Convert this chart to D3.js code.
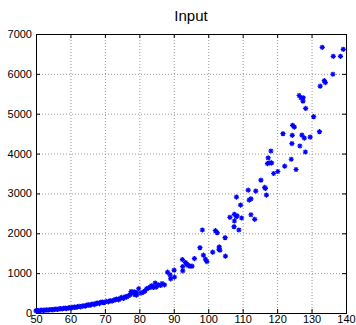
<!DOCTYPE html>
<html>
<head>
<meta charset="utf-8">
<script src="https://cdn.jsdelivr.net/npm/d3@7"></script>
<style>
  body { margin: 0; background: #fff; }
  svg text { font-family: "Liberation Sans", Arial, sans-serif; }
</style>
</head>
<body>
<div id="chart"></div>
<script>
// data
const xValues = [
  50, 50.4, 50.8, 51.3, 51.7, 52.2, 52.6, 53.1, 53.5, 54, 54.4, 54.9, 55.3, 55.8, 56.2, 56.7,
  57.1, 57.6, 58, 58.5, 58.9, 59.4, 59.8, 60.3, 60.7, 61.2, 61.6, 62.1, 62.5, 63, 63.4, 63.9,
  64.3, 64.8, 65.2, 65.7, 66.1, 66.6, 67, 67.5, 67.9, 68.4, 68.8, 69.3, 69.7, 70.4, 71, 71.5,
  72.1, 72.6, 73.1, 73.4, 74, 74.5, 74.9, 75.4, 75.9, 76.3, 76.8, 77.3,
  77.6, 77.8, 78.5, 78.7, 79.2, 79.2, 79.8, 80.5, 81.2, 81.6, 82.1, 82.6, 83.1, 83.5, 84.1,
  84.6, 84.9, 85.5, 86.2, 86.6, 87.3, 88.2, 88.9, 89.1, 90.1, 90.2, 92.5, 92.6, 92.6, 93.4,
  93.8, 94.2, 94.7, 95.3, 96.0, 97.6, 98.3, 98.6, 99.2, 99.6, 101.3, 102.1, 102.6, 103.1,
  103.2, 103.4, 104.9, 105.0, 106.3, 107.5, 107.6, 107.6, 108.1, 108.2, 108.4, 108.9, 109.4,
  109.7, 111.6, 111.9, 112.4, 112.4, 113.5, 113.8, 115.3, 116.4, 116.6, 116.9, 117.2, 117.4,
  117.9, 118.2, 118.4, 119.0, 120.2, 121.7, 122.2, 124.1, 124.3, 124.4, 124.5, 125.0, 125.5,
  126.4, 126.6, 126.9, 127.2, 127.5, 127.6, 127.9, 128.2, 128.3, 129.6, 130.6, 132.3, 132.5,
  133.1, 133.7, 134.0, 136.2, 136.3, 138.4, 139.2
];
const yValues = [
  55, 62, 58, 66, 70, 64, 74, 78, 72, 82, 86, 80, 92, 96, 90, 102,
  108, 104, 115, 120, 112, 128, 134, 126, 142, 148, 140, 158, 164, 155, 176, 182,
  172, 196, 204, 192, 218, 226, 212, 242, 250, 236, 268, 276, 258, 290, 280, 308,
  298, 322, 336, 350, 330, 372, 392, 365, 410, 400, 432, 455,
  540, 500, 533, 458, 450, 508, 608, 500, 525, 550, 608, 625, 640, 683, 640,
  750, 650, 708, 690, 740, 708, 1025, 958, 858, 1075, 900, 1340, 1165, 1058, 1265,
  1225, 1190, 1175, 1175, 1365, 1640, 2083, 1450, 1350, 1290, 1525, 2065, 2015, 1600,
  1658, 1575, 1890, 1425, 2400, 2165, 2475, 2308, 2415, 2908, 2440, 2083, 2708,
  2383, 3083, 2833, 2865, 2465, 2350, 3058, 3333, 3150, 3125, 2958, 3750, 3890,
  3765, 4065, 3765, 3500, 3550, 4500, 3683, 3858, 4250, 4458, 4708, 4665, 3600,
  5457, 4190, 5400, 4465, 5315, 5400, 4390, 4040, 5133, 4415, 4925, 4550, 5690,
  6665, 5830, 5780, 5990, 6440, 6440, 6615
];
const xTicks = [50, 60, 70, 80, 90, 100, 110, 120, 130, 140];
const yTicks = [0, 1000, 2000, 3000, 4000, 5000, 6000, 7000];
const title = "Input";

const W = 356, H = 325;
const margin = { top: 34, right: 10, bottom: 12, left: 36 };
const width = W - margin.left - margin.right;
const height = H - margin.top - margin.bottom;

const svg = d3.select("#chart").append("svg")
  .attr("width", W)
  .attr("height", H);

const g = svg.append("g")
  .attr("transform", `translate(${margin.left},${margin.top})`);

const x = d3.scaleLinear().domain([50, 140]).range([0, width]);
const y = d3.scaleLinear().domain([0, 7000]).range([height, 0]);

// dotted grid
g.append("g").selectAll("line")
  .data(xTicks.slice(1, -1))
  .join("line")
  .attr("x1", d => x(d) + 0.5).attr("x2", d => x(d) + 0.5)
  .attr("y1", 0).attr("y2", height)
  .attr("stroke", "#999").attr("stroke-dasharray", "1,2");

g.append("g").selectAll("line")
  .data(yTicks.slice(1, -1))
  .join("line")
  .attr("y1", d => y(d) + 0.5).attr("y2", d => y(d) + 0.5)
  .attr("x1", 0).attr("x2", width)
  .attr("stroke", "#999").attr("stroke-dasharray", "1,2");

// axes, ticks pointing inward like matlab
const axisStyle = sel => {
  sel.select(".domain").remove();
  sel.selectAll("text").style("font-size", "11px").attr("fill", "#000");
  sel.selectAll("line").attr("stroke", "#000");
};

g.append("g")
  .attr("transform", `translate(0,${height})`)
  .call(d3.axisBottom(x).tickValues(xTicks).tickSizeInner(-4).tickPadding(2).tickFormat(d3.format("d")))
  .call(axisStyle);

g.append("g")
  .call(d3.axisTop(x).tickValues(xTicks).tickSizeInner(-4).tickFormat(""))
  .call(axisStyle);

g.append("g")
  .call(d3.axisLeft(y).tickValues(yTicks).tickSizeInner(-4).tickPadding(4).tickFormat(d3.format("d")))
  .call(axisStyle);

g.append("g")
  .attr("transform", `translate(${width},0)`)
  .call(d3.axisRight(y).tickValues(yTicks).tickSizeInner(-4).tickFormat(""))
  .call(axisStyle);

// box
g.append("rect")
  .attr("x", 0.5).attr("y", 0.5)
  .attr("width", width).attr("height", height)
  .attr("fill", "none").attr("stroke", "#000");

// star markers (plus + cross)
const r = 2.6;
const star = `M${-r},0H${r}M0,${-r}V${r}M${-r*0.7},${-r*0.7}L${r*0.7},${r*0.7}M${-r*0.7},${r*0.7}L${r*0.7},${-r*0.7}`;

g.append("g").selectAll("path")
  .data(xValues.map((v, i) => [v, yValues[i]]))
  .join("path")
  .attr("transform", d => `translate(${x(d[0])},${y(d[1])})`)
  .attr("d", star)
  .attr("fill", "none")
  .attr("stroke", "#0000ff")
  .attr("stroke-width", 1.2);

svg.append("text")
  .attr("x", margin.left + width / 2)
  .attr("y", 21)
  .attr("text-anchor", "middle")
  .style("font-size", "15px")
  .text(title);
</script>
</body>
</html>
